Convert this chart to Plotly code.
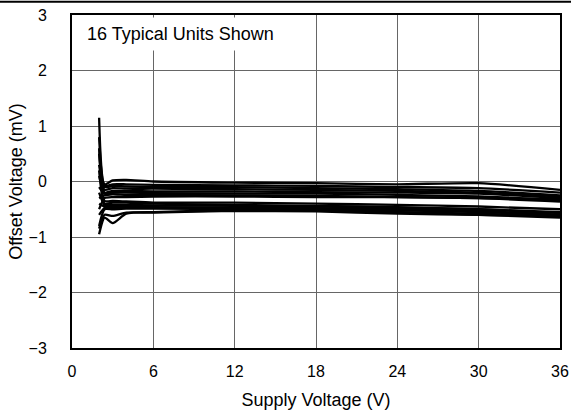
import plotly.graph_objects as go

# Supply voltage sample points (V)
supply_v = [2.0, 2.4, 3.0, 4.0, 6, 12, 18, 24, 30, 36]

# Offset voltage (mV) for 16 typical units
unit_01 = [1.15, -0.05, 0.02, 0.03, 0.00, -0.02, -0.03, -0.05, -0.03, -0.15]
unit_02 = [0.80, -0.08, -0.05, -0.05, -0.06, -0.07, -0.08, -0.10, -0.12, -0.20]
unit_03 = [0.50, -0.10, -0.08, -0.09, -0.10, -0.10, -0.12, -0.14, -0.17, -0.25]
unit_04 = [0.30, -0.15, -0.12, -0.13, -0.13, -0.14, -0.15, -0.17, -0.20, -0.27]
unit_05 = [0.10, -0.20, -0.17, -0.17, -0.18, -0.18, -0.19, -0.20, -0.22, -0.30]
unit_06 = [-0.10, -0.22, -0.20, -0.20, -0.21, -0.22, -0.22, -0.24, -0.27, -0.33]
unit_07 = [-0.30, -0.25, -0.23, -0.24, -0.24, -0.25, -0.26, -0.28, -0.30, -0.36]
unit_08 = [-0.50, -0.30, -0.28, -0.28, -0.27, -0.27, -0.28, -0.28, -0.30, -0.32]
unit_09 = [0.60, -0.35, -0.35, -0.36, -0.38, -0.38, -0.40, -0.42, -0.45, -0.50]
unit_10 = [0.20, -0.40, -0.38, -0.38, -0.40, -0.42, -0.44, -0.46, -0.50, -0.55]
unit_11 = [-0.20, -0.42, -0.42, -0.42, -0.43, -0.44, -0.45, -0.47, -0.50, -0.57]
unit_12 = [-0.40, -0.45, -0.45, -0.45, -0.46, -0.47, -0.48, -0.50, -0.53, -0.60]
unit_13 = [-0.60, -0.48, -0.47, -0.47, -0.47, -0.48, -0.49, -0.52, -0.55, -0.60]
unit_14 = [-0.80, -0.50, -0.50, -0.49, -0.49, -0.50, -0.51, -0.55, -0.58, -0.62]
unit_15 = [-0.95, -0.65, -0.75, -0.58, -0.55, -0.52, -0.52, -0.55, -0.60, -0.65]
unit_16 = [-0.85, -0.60, -0.62, -0.56, -0.56, -0.53, -0.54, -0.58, -0.60, -0.63]

units = [unit_01, unit_02, unit_03, unit_04, unit_05, unit_06, unit_07, unit_08,
         unit_09, unit_10, unit_11, unit_12, unit_13, unit_14, unit_15, unit_16]

x_ticks = [0, 6, 12, 18, 24, 30, 36]
y_ticks = [-3, -2, -1, 0, 1, 2, 3]

fig = go.Figure()
for u in units:
    fig.add_trace(go.Scatter(x=supply_v, y=u, mode="lines",
                             line=dict(color="black", width=2.3, shape="spline", smoothing=0.6),
                             showlegend=False, hoverinfo="skip"))

FAM = "Liberation Sans, Arial, sans-serif"
tick_font = dict(family=FAM, size=16, color="black")
title_font = dict(family=FAM, size=18, color="black")

fig.update_layout(
    width=571, height=410,
    margin=dict(l=72, r=11, t=15, b=62),
    paper_bgcolor="white", plot_bgcolor="white",
    font=tick_font,
    xaxis=dict(range=[0, 36], tickvals=x_ticks, showgrid=True, gridcolor="#666", gridwidth=1,
               showline=True, linecolor="black", linewidth=2, mirror=True, ticks="",
               zeroline=False, automargin=False, ticklabelstandoff=8,
               ticklabeloverflow="allow",
               title=dict(text="Supply Voltage (V)", font=title_font, standoff=14),
               tickfont=tick_font),
    yaxis=dict(range=[-3, 3], tickvals=y_ticks, showgrid=True, gridcolor="#666", gridwidth=1,
               showline=True, linecolor="black", linewidth=2, mirror=True, ticks="",
               zeroline=False, automargin=False, ticklabelstandoff=20,
               title=dict(text="Offset Voltage (mV)", font=title_font, standoff=1),
               tickfont=tick_font),
    annotations=[dict(x=0.59, y=2.657, xref="x", yref="y", text="16 Typical Units Shown",
                      showarrow=False, xanchor="left", yanchor="middle", bgcolor="white",
                      borderpad=6, font=title_font)],
    shapes=[dict(type="line", xref="paper", yref="paper", x0=-0.2, x1=1.05,
                 y0=1.04, y1=1.04, line=dict(color="black", width=2))],
)

fig.write_html("out.html", config={"displayModeBar": False},
               post_script="document.body.style.margin='0';")
